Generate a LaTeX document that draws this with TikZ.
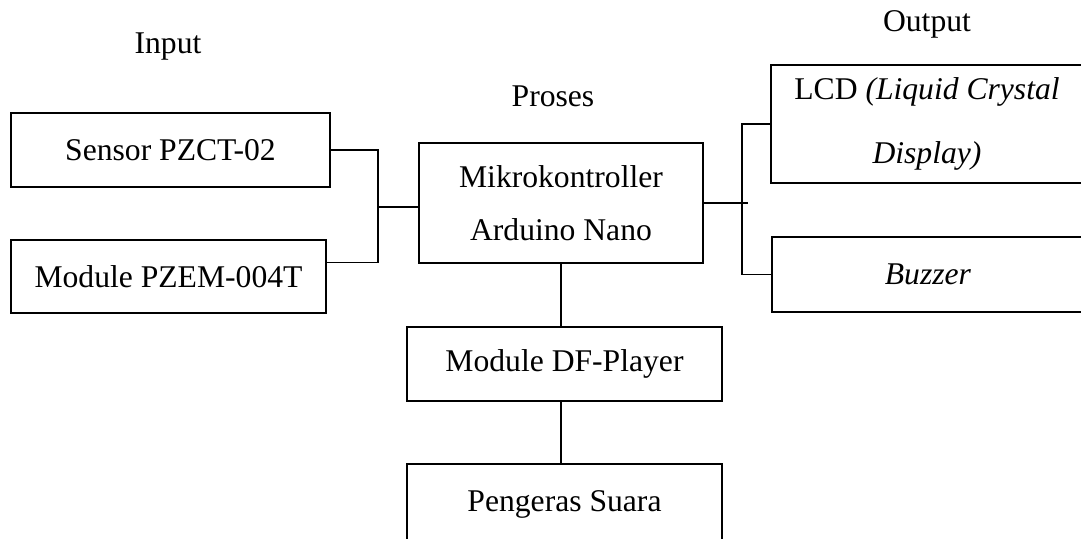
\documentclass[tikz,border=0pt]{standalone}
\usepackage{fontspec}
\setmainfont{Liberation Serif}
\usetikzlibrary{positioning, calc}

\begin{document}
\begin{tikzpicture}[
      x=0.02cm, y=-0.02cm,
      blok/.style  ={rectangle, draw, line width=1.1pt, align=center, inner sep=0pt,
                     font=\fontsize{18}{30}\selectfont},
      judul/.style ={font=\fontsize{18}{22}\selectfont},
      garis/.style ={line width=0.75pt}
    ]
    \useasboundingbox (0,0) rectangle (1081,538);
    \clip (0,0) rectangle (1081,538);

    % Judul kolom
    \node[judul] (IN)  at (168,47)  {Input};
    \node[judul] (PR)  at (553,96)  {Proses};
    \node[judul] (OUT) at (927,24)  {Output};

    % Blok input
    \node[blok, minimum width=6.38cm, minimum height=1.48cm] (SN) at (170.5,150)   {Sensor PZCT-02};
    \node[blok, minimum width=6.30cm, minimum height=1.46cm] (PZ) at (168.5,276.5) {Module PZEM-004T};

    % Blok proses
    \node[blok, minimum width=5.68cm, minimum height=2.40cm] (MK) at (561,203)
         {Mikrokontroller\\Arduino Nano};
    \node[blok, minimum width=6.30cm, minimum height=1.48cm] (DF) at (564.5,364) {Module DF-Player};
    \node[blok, minimum width=6.30cm, minimum height=1.60cm] (PS) at (564.5,504) {Pengeras Suara};

    % Blok output
    \node[blok, minimum width=6.24cm, minimum height=2.36cm] (LCD) at (927,124)
         {LCD \textit{(Liquid Crystal}\\[6pt]\textit{Display)}};
    \node[blok, minimum width=6.24cm, minimum height=1.50cm] (BZ) at (928,274.5) {\textit{Buzzer}};

    % Sambungan input ke mikrokontroller
    \coordinate (inbus)  at (378,207);
    \coordinate (outbus) at (742,206);
    \draw[garis] (SN.east) -| (inbus) |- ([yshift=0.28cm]PZ.east);
    \draw[garis] (inbus) -- (inbus -| MK.west);

    % Sambungan mikrokontroller ke output
    \draw[garis] (MK.east) -- ++(44,0);
    \draw[garis] (LCD.west) -| (outbus) |- (BZ.west);

    % Sambungan ke DF-Player dan pengeras suara
    \draw[garis] (MK.south) -- (MK.south |- DF.north);
    \draw[garis] (DF.south -| MK.south) -- (PS.north -| MK.south);

  \end{tikzpicture}
\end{document}
